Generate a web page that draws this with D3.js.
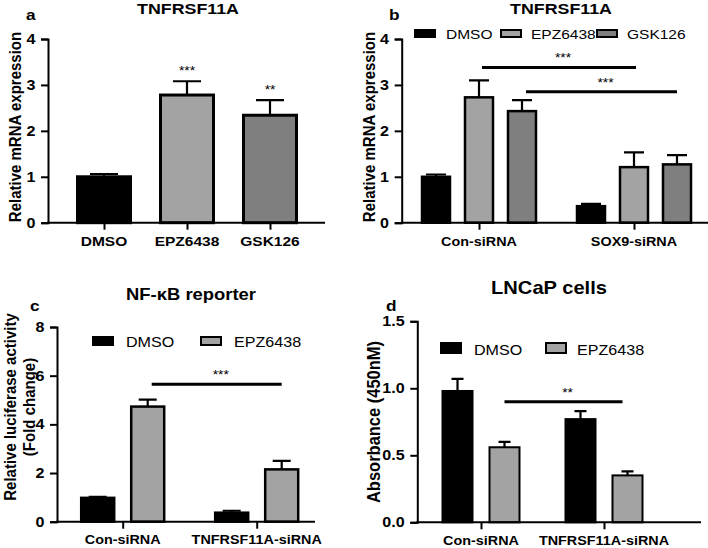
<!DOCTYPE html>
<html>
<head>
<meta charset="UTF-8">
<title></title>
<style>
    body { margin: 0; background: #fff; }
    svg { font-family: 'Liberation Sans', Arial, Helvetica, sans-serif; }
    .axis path, .axis line { stroke: #000; stroke-width: 2; }
    .bar { stroke: #000; }
    .err { stroke: #000; stroke-width: 2.2; fill: none; }
</style>
</head>
<body>
<script src="https://d3js.org/d3.v7.min.js"></script>
<script>
    /// data

    // panel a
    var aCats = ["DMSO", "EPZ6438", "GSK126"];
    var aMean = [1.0, 2.78, 2.34];
    var aErr = [0.06, 0.30, 0.33];
    var aStars = ["", "***", "**"];

    // panel b
    var bGroups = ["Con-siRNA", "SOX9-siRNA"];
    var bSeries = ["DMSO", "EPZ6438", "GSK126"];
    var bMean = [[1.0, 0.36], [2.73, 1.21], [2.43, 1.27]];
    var bErr = [[0.05, 0.05], [0.37, 0.32], [0.24, 0.20]];

    // panel c
    var cGroups = ["Con-siRNA", "TNFRSF11A-siRNA"];
    var cSeries = ["DMSO", "EPZ6438"];
    var cMean = [[0.98, 0.37], [4.73, 2.15]];
    var cErr = [[0.04, 0.08], [0.29, 0.35]];

    // panel d
    var dGroups = ["Con-siRNA", "TNFRSF11A-siRNA"];
    var dSeries = ["DMSO", "EPZ6438"];
    var dMean = [[0.98, 0.77], [0.56, 0.35]];
    var dErr = [[0.09, 0.06], [0.04, 0.03]];

    var ticksAB = [0, 1, 2, 3, 4];
    var ticksC = [0, 2, 4, 6, 8];
    var ticksD = [0, 0.5, 1.0, 1.5];

    var fill = { "DMSO": "#000000", "EPZ6438": "#a3a3a3", "GSK126": "#7f7f7f" };

    /// main
    var SX = 1.15; // the figure text is a bit wider than tall

    var svg = d3.select("body").append("svg")
        .attr("width", 708)
        .attr("height", 548);

    function txt(g, x, y, s, size, weight, anchor, rot) {
        return g.append("text")
            .attr("transform", "translate(" + x + "," + y + ") scale(" + SX + ",1)" + (rot ? " rotate(-90)" : ""))
            .attr("font-size", size)
            .attr("font-weight", weight || "bold")
            .attr("text-anchor", anchor || "middle")
            .text(s);
    }

    function panel(p) {
        var g = svg.append("g");
        var y = d3.scaleLinear().domain(p.yDomain).range(p.yRange);
        var x = d3.scalePoint().domain(p.groups).range(p.xRange);
        var sub = d3.scalePoint().domain(p.series).range(p.subRange);

        // bars
        var bars = [];
        p.series.forEach(function(s, si) {
            p.groups.forEach(function(gr, gi) {
                bars.push({ g: gr, s: s, v: p.mean[si][gi], e: p.err[si][gi],
                    c: p.color(s, gr) });
            });
        });

        g.selectAll(".bar").data(bars).enter().append("rect")
            .attr("class", "bar")
            .attr("x", function(d) { return x(d.g) + sub(d.s) - p.barW / 2; })
            .attr("y", function(d) { return y(d.v); })
            .attr("width", p.barW)
            .attr("height", function(d) { return y(0) - y(d.v); })
            .attr("fill", function(d) { return d.c; })
            .attr("stroke-width", p.barStroke);

        // upper error bars
        g.selectAll(".err").data(bars).enter().append("path")
            .attr("class", "err")
            .attr("d", function(d) {
                var cx = x(d.g) + sub(d.s);
                return "M" + cx + "," + y(d.v) + "V" + y(d.v + d.e) +
                    "M" + (cx - p.capW / 2) + "," + y(d.v + d.e) + "H" + (cx + p.capW / 2);
            });

        // y axis
        var yAxis = g.append("g").attr("class", "axis")
            .attr("transform", "translate(" + p.axisX + ",0)")
            .call(d3.axisLeft(y).tickValues(p.ticks).tickFormat(p.fmt).tickSizeOuter(0).tickSize(7).tickPadding(4));
        yAxis.selectAll("text")
            .attr("font-size", p.tickSize)
            .attr("font-weight", "bold")
            .attr("fill", "#000")
            .attr("font-family", "'Liberation Sans', Arial, sans-serif")
            .attr("transform", "scale(" + SX + ",1)");

        // x axis
        var xAxis = g.append("g").attr("class", "axis")
            .attr("transform", "translate(0," + y(0) + ")")
            .call(d3.axisBottom(x).tickSize(7).tickSizeOuter(0).tickFormat(""));
        xAxis.select(".domain").remove();
        xAxis.append("path")
            .attr("d", "M" + (p.axisX - 1) + ",0H" + p.xEnd)
            .attr("stroke", "#000").attr("stroke-width", 2);

        p.groups.forEach(function(gr) {
            txt(g, x(gr), p.labelY, gr, p.labelSize);
        });

        // titles
        txt(g, p.titleX, p.titleY, p.title, p.titleSize);
        txt(g, p.letterX, p.letterY, p.letter, 15, "bold", "start");
        p.ylabel.forEach(function(l, i) {
            txt(g, p.ylabelX[i], p.ylabelY, l, p.ylabelSize, "bold", "middle", true);
        });

        // stars over single bars
        if (p.stars) {
            p.stars.forEach(function(s, i) {
                if (!s) return;
                var gr = p.groups[i];
                txt(g, x(gr), y(p.mean[0][i] + p.err[0][i]) - 6, s, 12, "normal");
            });
        }

        // significance lines
        (p.sigs || []).forEach(function(s) {
            var x1 = x(s.from[0]) + sub(s.from[1]) + s.inset[0];
            var x2 = x(s.to[0]) + sub(s.to[1]) + s.inset[1];
            g.append("path")
                .attr("d", "M" + x1 + "," + y(s.y) + "H" + x2)
                .attr("stroke", "#000").attr("stroke-width", 3);
            txt(g, (x1 + x2) / 2 + 4, y(s.y) - 5, s.label, 12, "normal");
        });

        // legend
        if (p.legend) {
            p.legend.forEach(function(l, i) {
                g.append("rect")
                    .attr("x", p.legend.xs[i])
                    .attr("y", p.legendY - p.swH)
                    .attr("width", 20)
                    .attr("height", p.swH)
                    .attr("fill", fill[l])
                    .attr("stroke", "#000")
                    .attr("stroke-width", 2);
                txt(g, p.legend.tx[i], p.legendY + 2, l, p.legendSize, "normal", "start");
            });
        }
        return g;
    }

    // a
    panel({
        groups: aCats, series: ["v"], mean: [aMean], err: [aErr], stars: aStars,
        color: function(s, gr) { return fill[gr]; },
        yDomain: [0, 4], yRange: [222.7, 39], ticks: ticksAB, fmt: d3.format("d"),
        xRange: [104, 270], subRange: [0, 0], barW: 53, capW: 28, barStroke: 3,
        axisX: 48, xEnd: 325, labelY: 246, labelSize: 13.5, tickSize: 14,
        title: "TNFRSF11A", titleX: 188, titleY: 14, titleSize: 15.5,
        letter: "a", letterX: 26, letterY: 20,
        ylabel: ["Relative mRNA expression"], ylabelX: [20.5], ylabelY: 127, ylabelSize: 15
    });

    // b
    var bLeg = bSeries.slice();
    bLeg.xs = [415, 501, 597];
    bLeg.tx = [446, 531, 627];
    panel({
        groups: bGroups, series: bSeries, mean: bMean, err: bErr,
        color: function(s) { return fill[s]; },
        yDomain: [0, 4], yRange: [222.7, 39], ticks: ticksAB, fmt: d3.format("d"),
        xRange: [479, 634], subRange: [-43, 43], barW: 28, capW: 20, barStroke: 2.5,
        axisX: 401.7, xEnd: 708, labelY: 246, labelSize: 12.5, tickSize: 14,
        title: "TNFRSF11A", titleX: 561, titleY: 14, titleSize: 15.5,
        letter: "b", letterX: 389, letterY: 20,
        ylabel: ["Relative mRNA expression"], ylabelX: [374.5], ylabelY: 127, ylabelSize: 15,
        legend: bLeg, legendY: 37, swH: 7, legendSize: 13.5,
        sigs: [
            { from: ["Con-siRNA", "EPZ6438"], to: ["SOX9-siRNA", "EPZ6438"], inset: [3, 2], y: 3.38, label: "***" },
            { from: ["Con-siRNA", "GSK126"], to: ["SOX9-siRNA", "GSK126"], inset: [4, 0], y: 2.85, label: "***" }
        ]
    });

    // c
    var cLeg = cSeries.slice();
    cLeg.xs = [93, 201];
    cLeg.tx = [126, 234];
    panel({
        groups: cGroups, series: cSeries, mean: cMean, err: cErr,
        color: function(s) { return fill[s]; },
        yDomain: [0, 8], yRange: [521.7, 327], ticks: ticksC, fmt: d3.format("d"),
        xRange: [122.7, 256.7], subRange: [-25, 25], barW: 33, capW: 18, barStroke: 2.5,
        axisX: 57, xEnd: 315, labelY: 544, labelSize: 12.5, tickSize: 14,
        title: "NF-\u03baB reporter", titleX: 191, titleY: 300, titleSize: 16,
        letter: "c", letterX: 30, letterY: 311,
        ylabel: ["Relative luciferase activity", "(Fold change)"], ylabelX: [16, 35], ylabelY: 407, ylabelSize: 15,
        legend: cLeg, legendY: 345, swH: 8, legendSize: 14,
        sigs: [
            { from: ["Con-siRNA", "EPZ6438"], to: ["TNFRSF11A-siRNA", "EPZ6438"], inset: [4, 0], y: 5.65, label: "***" }
        ]
    });

    // d
    var dLeg = dSeries.slice();
    dLeg.xs = [441, 546];
    dLeg.tx = [474, 577];
    panel({
        groups: dGroups, series: dSeries, mean: dMean, err: dErr,
        color: function(s) { return fill[s]; },
        yDomain: [0, 1.5], yRange: [522.3, 321.3], ticks: ticksD, fmt: d3.format(".1f"),
        xRange: [481, 604], subRange: [-23.5, 23.5], barW: 30, capW: 12, barStroke: 2,
        axisX: 417.3, xEnd: 701, labelY: 545, labelSize: 12.5, tickSize: 14,
        title: "LNCaP cells", titleX: 549, titleY: 294, titleSize: 17.5,
        letter: "d", letterX: 386, letterY: 311,
        ylabel: ["Absorbance (450nM)"], ylabelX: [380], ylabelY: 422, ylabelSize: 16.5,
        legend: dLeg, legendY: 353, swH: 10, legendSize: 14,
        sigs: [
            { from: ["Con-siRNA", "EPZ6438"], to: ["TNFRSF11A-siRNA", "EPZ6438"], inset: [0, -5], y: 0.90, label: "**" }
        ]
    });
</script>
</body>
</html>
